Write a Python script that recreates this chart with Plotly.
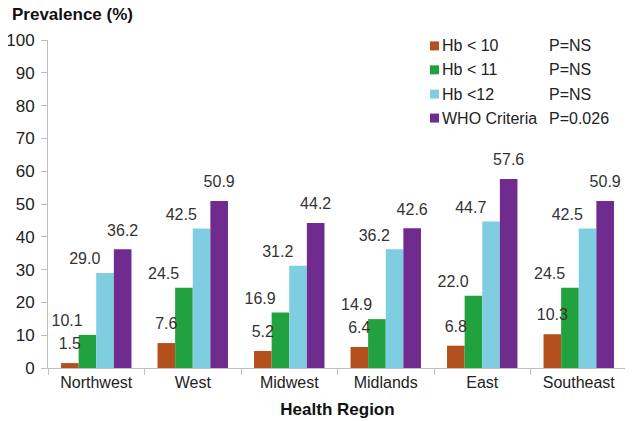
import plotly.graph_objects as go

regions = ["Northwest", "West", "Midwest", "Midlands", "East", "Southeast"]
series_names = ["Hb &lt; 10", "Hb &lt; 11", "Hb &lt;12", "WHO Criteria"]
p_values = ["P=NS", "P=NS", "P=NS", "P=0.026"]
hb10 = [1.5, 7.6, 5.2, 6.4, 6.8, 10.3]
hb11 = [10.1, 24.5, 16.9, 14.9, 22.0, 24.5]
hb12 = [29.0, 42.5, 31.2, 36.2, 44.7, 42.5]
who = [36.2, 50.9, 44.2, 42.6, 57.6, 50.9]
colors = ["#B4501E", "#22A23E", "#7ECDE0", "#6F2C8E"]
label_pos = ["top center", "top left", "top left", "top center"]
label_pad = [14, 6, 6, 14]  # invisible marker size used to lift labels off the bars

FONT = "Arial, Liberation Sans, sans-serif"
all_series = [hb10, hb11, hb12, who]
fig = go.Figure()
for name, vals, c in zip(series_names, all_series, colors):
    fig.add_trace(go.Bar(
        x=regions, y=vals, name=name, marker_color=c, marker_line_width=0,
        showlegend=False,
    ))
# value labels drawn above all bars (grouped scatter aligned with bars)
for vals, pos, pad in zip(all_series, label_pos, label_pad):
    fig.add_trace(go.Scatter(
        x=regions, y=vals, mode="markers+text", text=[f"{v:.1f}" for v in vals],
        marker=dict(size=pad, color="rgba(0,0,0,0)"),
        textposition=pos, textfont=dict(family=FONT, size=16, color="#333333"),
        cliponaxis=False, showlegend=False, hoverinfo="skip",
    ))

fig.update_layout(
    width=625, height=413,
    margin=dict(l=40, r=6, t=32, b=53),
    paper_bgcolor="white", plot_bgcolor="white",
    barmode="group", bargap=0.27, bargroupgap=0,
    scattermode="group", scattergap=0.27,
    font=dict(family=FONT, size=16, color="#222222"),
    showlegend=False,
    xaxis=dict(showline=True, linecolor="#BFBFBF", linewidth=1, automargin=False,
               ticks="outside", tickson="boundaries", ticklen=6, tickcolor="#BFBFBF",
               tickfont=dict(size=16, color="#222222"),
               title=dict(text="<b>Health Region</b>", font=dict(size=17, color="#111111"), standoff=12)),
    yaxis=dict(range=[0, 100], dtick=10, showline=True, linecolor="#BFBFBF", linewidth=1,
               automargin=False,
               ticks="outside", ticklen=6, tickcolor="#BFBFBF", showgrid=False, zeroline=False,
               ticklabelstandoff=3,
               tickfont=dict(size=17, color="#222222")),
)

fig.add_annotation(text="<b>Prevalence (%)</b>", xref="paper", yref="paper",
                   x=-0.066, y=1.079, xanchor="left", yanchor="middle", showarrow=False,
                   font=dict(family=FONT, size=17, color="#111111"))

# legend (manual, to match the compact swatch/text spacing and P-value column)
row_centers = [0.982, 0.909, 0.835, 0.762]
sq_h = 9 / 328
for name, c, p, yc in zip(series_names, colors, p_values, row_centers):
    fig.add_shape(type="rect", xref="paper", yref="paper",
                  x0=0.6598, x1=0.6753, y0=yc - sq_h / 2, y1=yc + sq_h / 2,
                  fillcolor=c, line_width=0)
    fig.add_annotation(text=name, xref="paper", yref="paper", x=0.6770, y=yc,
                       xanchor="left", yanchor="middle", showarrow=False,
                       font=dict(family=FONT, size=16, color="#222222"))
    fig.add_annotation(text=p, xref="paper", yref="paper", x=0.862, y=yc,
                       xanchor="left", yanchor="middle", showarrow=False,
                       font=dict(family=FONT, size=16, color="#222222"))

fig.write_html("out.html")
